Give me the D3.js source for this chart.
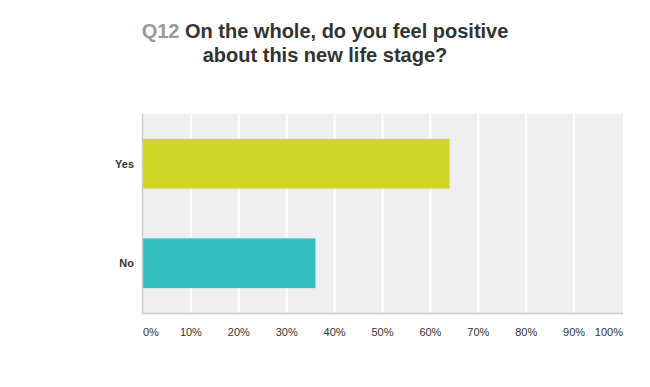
<!DOCTYPE html>
<html>
<head>
<meta charset="utf-8">
<script src="https://cdn.jsdelivr.net/npm/d3@7"></script>
<style>
  body { margin: 0; background: #fff; }
  text { font-family: Arial, "Liberation Sans", sans-serif; }
</style>
</head>
<body>
<script>
const categories = ["Yes", "No"];
const values = [64, 36];
const colors = ["#d1d627", "#33bebf"];
const ticks = [0, 10, 20, 30, 40, 50, 60, 70, 80, 90, 100];

const width = 650, height = 387;
const margin = {top: 114, right: 28, bottom: 74, left: 143};

const svg = d3.select("body").append("svg")
    .attr("width", width)
    .attr("height", height);

// title
const title = svg.append("text")
    .attr("text-anchor", "middle")
    .style("font-size", "20px")
    .style("font-weight", "bold")
    .attr("fill", "#333");
const l1 = title.append("tspan").attr("x", 325).attr("y", 38);
l1.append("tspan").attr("fill", "#999").text("Q12 ");
l1.append("tspan").text("On the whole, do you feel positive");
title.append("tspan").attr("x", 325).attr("y", 62).text("about this new life stage?");

const x = d3.scaleLinear().domain([0, 100]).range([margin.left, width - margin.right]);
const y = d3.scaleBand().domain(categories)
    .range([margin.top, height - margin.bottom])
    .paddingInner(0.5).paddingOuter(0.25);

svg.append("rect")
    .attr("x", margin.left).attr("y", margin.top)
    .attr("width", x(100) - margin.left + 1)
    .attr("height", height - margin.bottom - margin.top)
    .attr("fill", "#efefef");

svg.append("g").selectAll("line")
    .data(ticks.slice(1, -1))
    .join("line")
    .attr("x1", d => x(d)).attr("x2", d => x(d))
    .attr("y1", margin.top).attr("y2", height - margin.bottom)
    .attr("stroke", "#fff").attr("stroke-width", 2);

svg.append("g").selectAll("rect")
    .data(categories)
    .join("rect")
    .attr("x", margin.left)
    .attr("y", d => y(d))
    .attr("width", (d, i) => x(values[i]) - margin.left)
    .attr("height", y.bandwidth())
    .attr("fill", (d, i) => colors[i]);

// axis lines
svg.append("line")
    .attr("x1", margin.left - 0.5).attr("x2", margin.left - 0.5)
    .attr("y1", margin.top).attr("y2", height - margin.bottom + 1)
    .attr("stroke", "#ccc").attr("stroke-width", 1.5);
svg.append("line")
    .attr("x1", margin.left - 1).attr("x2", x(100) + 1)
    .attr("y1", height - margin.bottom + 0.5).attr("y2", height - margin.bottom + 0.5)
    .attr("stroke", "#ccc").attr("stroke-width", 1.5);

// category labels
svg.append("g").selectAll("text")
    .data(categories)
    .join("text")
    .attr("x", 134)
    .attr("y", d => y(d) + y.bandwidth() / 2)
    .attr("dy", "0.35em")
    .attr("text-anchor", "end")
    .style("font-size", "11px")
    .style("font-weight", "bold")
    .attr("fill", "#333")
    .text(d => d);

// tick labels
svg.append("g").selectAll("text")
    .data(ticks)
    .join("text")
    .attr("x", d => d === 0 ? x(d) : d === 100 ? x(d) + 1 : x(d))
    .attr("y", 336)
    .attr("text-anchor", d => d === 0 ? "start" : d === 100 ? "end" : "middle")
    .style("font-size", "11px")
    .attr("fill", "#333")
    .text(d => d + "%");
</script>
</body>
</html>
